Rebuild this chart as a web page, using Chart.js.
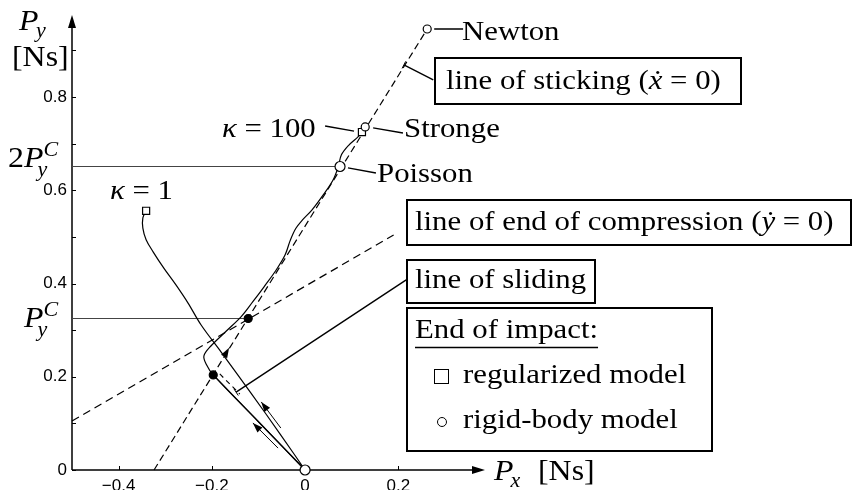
<!DOCTYPE html>
<html>
<head>
<meta charset="utf-8">
<script src="https://cdn.jsdelivr.net/npm/chart.js@4.4.1/dist/chart.umd.min.js"></script>
<style>
  html, body { margin: 0; padding: 0; background: #fff; }
</style>
</head>
<body>
<canvas id="chart" width="853" height="490"></canvas>
<script>
// ---- data (impulse space, Ns) ----
const xTicks = [-0.4, -0.2, 0, 0.2];
const yTicks = [0, 0.2, 0.4, 0.6, 0.8];
const yMinorTicks = [0.1, 0.3, 0.5, 0.7, 0.9];
const pyC = 0.325;

const kappa1X = [-0.341, -0.348, -0.348, -0.341, -0.326, -0.303, -0.277, -0.251, -0.223, -0.180, -0.116, -0.052, 0];
const kappa1Y = [0.556, 0.541, 0.519, 0.494, 0.468, 0.433, 0.397, 0.358, 0.311, 0.253, 0.165, 0.075, 0];

const kappa100X = [0, -0.100, -0.197, -0.212, -0.217, -0.202, -0.170, -0.137, -0.112, -0.088, -0.062, -0.043, -0.032, -0.020, -0.005, 0.015, 0.039, 0.060, 0.071, 0.078, 0.094, 0.114, 0.122];
const kappa100Y = [0, 0.1035, 0.204, 0.227, 0.245, 0.266, 0.297, 0.329, 0.361, 0.393, 0.429, 0.461, 0.492, 0.518, 0.537, 0.558, 0.590, 0.622, 0.650, 0.676, 0.697, 0.715, 0.725];

const stickX = [-0.324, 0.262];
const stickY = [0, 0.946];
const complX = [-0.5, 0.19];
const complY = [0.105, 0.504];
const slideX = [0, -0.197];
const slideY = [0, 0.204];
const slideDashX = [-0.183, -0.140];
const slideDashY = [0.206, 0.163];

const rigidX = [0.262, 0.129, 0.075];   // Newton, Stronge, Poisson
const rigidY = [0.946, 0.736, 0.651];
const regX = [-0.341, 0.122];           // kappa = 1, kappa = 100
const regY = [0.556, 0.725];
const crossX = [-0.122, -0.197];
const crossY = [pyC, 0.204];

// leader lines [x0, y0, x1, y1]
const leaders = [
  [0.277, 0.946, 0.339, 0.946],   // Newton
  [0.146, 0.734, 0.210, 0.723],   // Stronge
  [0.092, 0.648, 0.152, 0.637],   // Poisson
  [0.043, 0.738, 0.105, 0.727],   // kappa = 100
  [0.212, 0.869, 0.275, 0.837],   // line of sticking
  [-0.148, 0.167, 0.217, 0.408]   // line of sliding
];
// direction arrows [x0, y0, x1, y1]
const arrows = [
  [-0.052, 0.090, -0.094, 0.146],
  [-0.058, 0.047, -0.112, 0.101]
];

function pts(xs, ys) {
  return xs.map((x, i) => ({x: x, y: ys[i]}));
}

function line(xs, ys, extra) {
  return Object.assign({
    data: pts(xs, ys),
    showLine: true,
    borderColor: '#000',
    borderWidth: 1.2,
    pointRadius: 0,
    clip: false,
    tension: 0,
    order: 2
  }, extra || {});
}

function marks(xs, ys, style, radius, fillColor) {
  return {
    data: pts(xs, ys),
    showLine: false,
    pointStyle: style,
    pointRadius: radius,
    pointBackgroundColor: fillColor,
    pointBorderColor: '#000',
    pointBorderWidth: 1.2,
    clip: false,
    order: 0
  };
}

const SX = 1.1;
const SERIF = '"Liberation Serif", "DejaVu Serif", serif';

// segs: [text, italic, sizeScale, dy (em)]
function rich(ctx, x, y, segs, size) {
  ctx.save();
  ctx.translate(x, y);
  ctx.scale(SX, 1);
  ctx.fillStyle = '#000';
  ctx.textBaseline = 'alphabetic';
  ctx.textAlign = 'left';
  let cx = 0;
  for (const s of segs) {
    const sc = s[2] || 1;
    ctx.font = (s[1] ? 'italic ' : '') + Math.round(size * sc) + 'px ' + SERIF;
    ctx.fillText(s[0], cx, (s[3] || 0) * size);
    cx += ctx.measureText(s[0]).width;
  }
  ctx.restore();
  return cx * SX;
}

function arrowHead(ctx, x0, y0, x1, y1, len, half) {
  const a = Math.atan2(y1 - y0, x1 - x0);
  ctx.beginPath();
  ctx.moveTo(x1, y1);
  ctx.lineTo(x1 - len * Math.cos(a) + half * Math.sin(a), y1 - len * Math.sin(a) - half * Math.cos(a));
  ctx.lineTo(x1 - len * Math.cos(a) - half * Math.sin(a), y1 - len * Math.sin(a) + half * Math.cos(a));
  ctx.closePath();
  ctx.fill();
}

const decor = {
  id: 'decor',
  beforeDatasetsDraw(chart) {
    const ctx = chart.ctx;
    const xs = chart.scales.x, ys = chart.scales.y;
    const a = chart.chartArea;
    ctx.save();
    ctx.strokeStyle = '#000';
    ctx.fillStyle = '#000';
    ctx.lineWidth = 1.5;
    // axes
    ctx.beginPath();
    ctx.moveTo(a.left, a.bottom);
    ctx.lineTo(a.right - 6, a.bottom);
    ctx.moveTo(a.left, a.bottom);
    ctx.lineTo(a.left, a.top + 6);
    ctx.stroke();
    arrowHead(ctx, a.left, a.bottom, a.right, a.bottom, 13, 4);
    arrowHead(ctx, a.left, a.bottom, a.left, a.top, 13, 4);
    // ticks
    ctx.lineWidth = 1;
    ctx.beginPath();
    for (const v of xTicks) {
      const p = Math.round(xs.getPixelForValue(v)) + 0.5;
      ctx.moveTo(p, a.bottom);
      ctx.lineTo(p, a.bottom - 4);
    }
    for (const v of yTicks.concat(yMinorTicks)) {
      const p = Math.round(ys.getPixelForValue(v)) + 0.5;
      ctx.moveTo(a.left, p);
      ctx.lineTo(a.left + 4, p);
    }
    ctx.stroke();
    // tick labels
    ctx.font = '17px "Liberation Sans", Arial, sans-serif';
    ctx.textAlign = 'center';
    ctx.textBaseline = 'top';
    for (const v of xTicks) {
      ctx.fillText(String(v).replace('-', '\u2212'), xs.getPixelForValue(v), a.bottom + 8);
    }
    ctx.textAlign = 'right';
    ctx.textBaseline = 'middle';
    for (const v of yTicks) {
      ctx.fillText(String(v), a.left - 5, ys.getPixelForValue(v));
    }
    ctx.restore();
  },
  afterDatasetsDraw(chart) {
    const ctx = chart.ctx;
    const xs = chart.scales.x, ys = chart.scales.y;
    const X = v => xs.getPixelForValue(v);
    const Y = v => ys.getPixelForValue(v);
    ctx.save();
    ctx.strokeStyle = '#000';
    ctx.fillStyle = '#000';

    // leader lines
    ctx.lineWidth = 1.4;
    ctx.beginPath();
    for (const l of leaders) {
      ctx.moveTo(X(l[0]), Y(l[1]));
      ctx.lineTo(X(l[2]), Y(l[3]));
    }
    ctx.stroke();
    // small end marks on the sticking and sliding leaders
    ctx.lineWidth = 1;
    for (const l of [leaders[4], leaders[5]]) {
      const x0 = X(l[0]), y0 = Y(l[1]), x1 = X(l[2]), y1 = Y(l[3]);
      const d = Math.hypot(x1 - x0, y1 - y0);
      const nx = -(y1 - y0) / d * 4, ny = (x1 - x0) / d * 4;
      ctx.beginPath();
      ctx.moveTo(x0 - nx, y0 - ny);
      ctx.lineTo(x0 + nx, y0 + ny);
      ctx.stroke();
    }

    // direction arrows
    ctx.lineWidth = 1;
    for (const r of arrows) {
      const x0 = X(r[0]), y0 = Y(r[1]), x1 = X(r[2]), y1 = Y(r[3]);
      ctx.beginPath();
      ctx.moveTo(x0, y0);
      ctx.lineTo(x1, y1);
      ctx.stroke();
      arrowHead(ctx, x0, y0, x1, y1, 10, 3.5);
    }
    // arrow along the line of sticking
    arrowHead(ctx, X(-0.175), Y(0.241), X(-0.163), Y(0.262), 10, 3.5);

    // axis titles
    rich(ctx, 19, 30, [['P', true]], 29);
    rich(ctx, 36, 37, [['y', true]], 20);
    rich(ctx, 12, 66, [['[Ns]', false]], 29);
    let w = rich(ctx, 8, 167, [['2', false], ['P', true]], 29);
    rich(ctx, 8 + w - 6, 176, [['y', true]], 20);
    rich(ctx, 8 + w, 156, [['C', true]], 20);
    w = rich(ctx, 24, 327, [['P', true]], 29);
    rich(ctx, 24 + w - 6, 336, [['y', true]], 20);
    rich(ctx, 24 + w, 316, [['C', true]], 20);
    w = rich(ctx, 494, 480, [['P', true]], 29);
    rich(ctx, 494 + w - 3, 487, [['x', true]], 20);
    rich(ctx, 538, 480, [['[Ns]', false]], 29);

    // point labels
    const FS = 28;
    rich(ctx, 462, 40, [['Newton', false]], FS);
    rich(ctx, 404, 137, [['Stronge', false]], FS);
    rich(ctx, 377, 182, [['Poisson', false]], FS);
    rich(ctx, 222, 137, [['\u03ba', true], [' = 100', false]], FS);
    rich(ctx, 110, 199, [['\u03ba', true], [' = 1', false]], FS);

    // boxed labels
    ctx.lineWidth = 2;
    ctx.strokeRect(435, 58, 306, 46);
    rich(ctx, 446, 89, [['line of sticking (', false], ['\u1e8b', true], [' = 0)', false]], FS);
    ctx.strokeRect(407, 200, 444, 45);
    rich(ctx, 415, 230, [['line of end of compression (', false], ['\u1e8f', true], [' = 0)', false]], FS);
    ctx.strokeRect(407, 260, 188, 43);
    rich(ctx, 415, 288, [['line of sliding', false]], FS);
    ctx.strokeRect(407, 308, 305, 143);
    w = rich(ctx, 415, 338, [['End of impact:', false]], FS);
    ctx.lineWidth = 1.5;
    ctx.beginPath();
    ctx.moveTo(415, 347.5);
    ctx.lineTo(415 + w, 347.5);
    ctx.stroke();
    ctx.lineWidth = 1;
    ctx.strokeRect(434.5, 369.5, 14, 14);
    rich(ctx, 463, 383, [['regularized model', false]], FS);
    ctx.beginPath();
    ctx.arc(442, 422, 4.5, 0, Math.PI * 2);
    ctx.stroke();
    rich(ctx, 463, 428, [['rigid-body model', false]], FS);
    ctx.restore();
  }
};

new Chart(document.getElementById('chart'), {
  type: 'scatter',
  data: {
    datasets: [
      marks(rigidX, rigidY, 'circle', [4, 4, 5], '#fff'),
      marks([0], [0], 'circle', 5, '#fff'),
      marks(regX, regY, 'rect', 5, '#fff'),
      marks(crossX, crossY, 'circle', 4, '#000'),
      line(kappa1X, kappa1Y, {tension: 0.35}),
      line(kappa100X, kappa100Y, {tension: 0.35}),
      line(slideX, slideY),
      line(slideDashX, slideDashY, {borderDash: [5, 4], borderWidth: 1.1}),
      line(stickX, stickY, {borderDash: [7, 4], borderWidth: 1.2}),
      line(complX, complY, {borderDash: [8, 5], borderWidth: 1.2}),
      line([-0.5, crossX[0]], [pyC, pyC], {borderColor: '#444'}),
      line([-0.5, rigidX[2]], [rigidY[2], rigidY[2]], {borderColor: '#444'})
    ]
  },
  options: {
    responsive: false,
    devicePixelRatio: 1,
    animation: false,
    layout: {padding: {left: 72, right: 368, top: 15, bottom: 20}},
    scales: {
      x: {type: 'linear', display: false, min: -0.5, max: 0.386},
      y: {type: 'linear', display: false, min: 0, max: 0.976}
    },
    plugins: {legend: {display: false}, tooltip: {enabled: false}}
  },
  plugins: [decor]
});
</script>
</body>
</html>
